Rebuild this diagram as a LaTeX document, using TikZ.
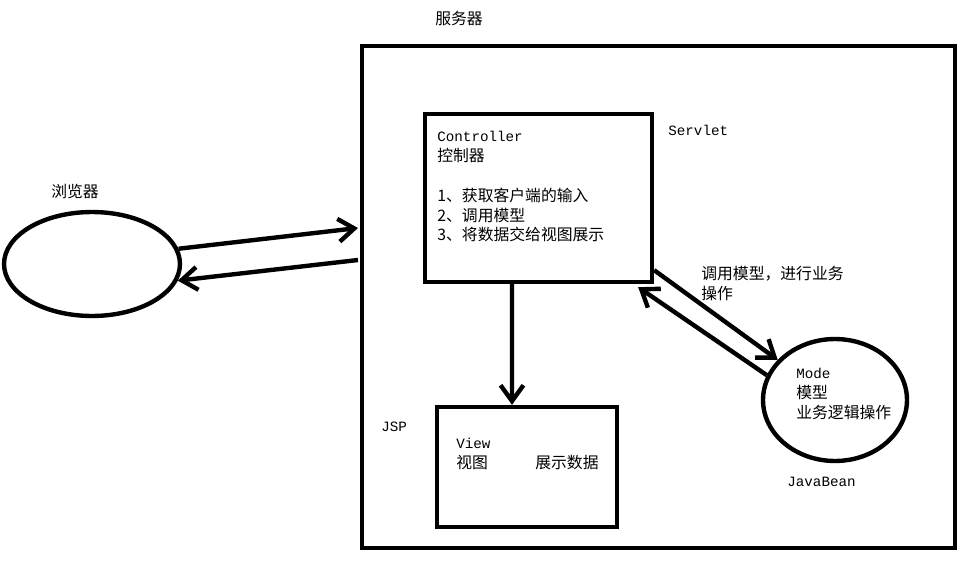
\documentclass[tikz,border=0pt]{standalone}
\usepackage{fontspec}
\setmainfont{Noto Sans CJK SC}
\setmonofont[Scale=0.9]{Liberation Mono}
\usetikzlibrary{arrows.meta,shapes.geometric}
\tikzset{>={Straight Barb[length=9pt,width=13pt]}}
\tikzset{
  box/.style={draw,line width=2.5pt,rectangle,inner sep=0pt},
  oval/.style={draw,line width=2.5pt,ellipse,inner sep=0pt},
  txt/.style={font=\fontsize{9}{11.3}\selectfont,inner sep=0pt,align=left},
  link/.style={->,line width=2.5pt}
}
\newcommand{\en}[1]{{\ttfamily #1}}

\begin{document}
\begin{tikzpicture}[x=0.02cm,y=-0.02cm]
  \useasboundingbox (0,0) rectangle (967,561);
  \node[box,minimum width=11.86cm,minimum height=10.04cm] (server) at (658.5,297) {};
  \node[box,minimum width=4.54cm,minimum height=3.36cm] (ctrl) at (538.5,198) {};
  \node[box,minimum width=3.6cm,minimum height=2.4cm] (view) at (527,467) {};
  \node[oval,minimum width=3.52cm,minimum height=2.08cm] (browser) at (92,264) {};
  \node[oval,minimum width=2.88cm,minimum height=2.44cm] (model) at (835,400) {};
  \node[txt,anchor=west] (servername) at (435,18) {服务器};
  \node[txt,anchor=west] (browsername) at (51,191) {浏览器};
  \node[txt,anchor=west] (servlet) at (668,130) {\en{Servlet}};
  \node[txt,anchor=west] (jsp) at (381,427) {\en{JSP}};
  \node[txt,anchor=west] (javabean) at (787,482) {\en{JavaBean}};
  \node[txt,anchor=north west] (ctrltext) at (437,131)
    {\en{Controller}\\控制器\\[11.3pt]1、获取客户端的输入\\2、调用模型\\3、将数据交给视图展示};
  \node[txt,anchor=north west] (viewtext) at (456,438) {\en{View}\\视图};
  \node[txt,anchor=west] (showdata) at (535,463) {展示数据};
  \node[txt,anchor=north west] (modeltext) at (796,368) {\en{Mode}\\模型\\业务逻辑操作};
  \node[txt,anchor=north west] (calltext) at (701,266) {调用模型，进行业务\\操作};
  \coordinate (srvin) at (358,228);
  \coordinate (srvout) at (358,260);
  \draw[link] (browser.10) -- (srvin);
  \draw[link] (srvout) -- (browser.-11);
  \draw[link] ([xshift=-0.53cm]ctrl.south) -- ([xshift=-0.3cm]view.north);
  \draw[link] ([yshift=0.28cm]ctrl.south east) -- (model.145);
  \draw[link] (model.160) -- ([xshift=-0.32cm,yshift=-0.06cm]ctrl.south east);
\end{tikzpicture}
\end{document}
